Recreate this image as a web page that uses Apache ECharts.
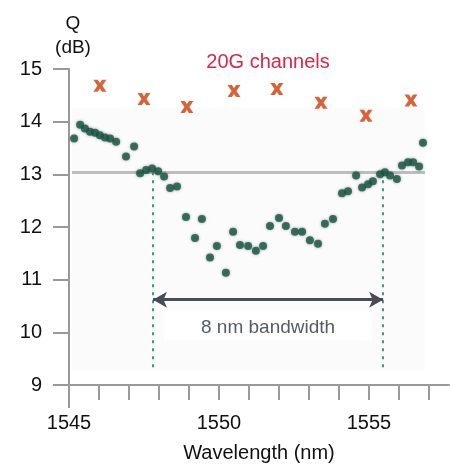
<!DOCTYPE html>
<html><head><meta charset="utf-8">
<script src="https://cdn.jsdelivr.net/npm/echarts@6/dist/echarts.min.js"></script>
<style>html,body{margin:0;padding:0;background:#fff}#c{width:450px;height:468px}</style>
</head><body><div id="c"></div>
<script>
// 10G channels: Q (dB) vs wavelength (nm)
const wl10 = [1545.17,1545.37,1545.53,1545.70,1545.87,1546.03,1546.20,1546.37,1546.57,1546.90,1547.17,1547.37,1547.57,1547.77,1547.97,1548.17,1548.37,1548.60,1548.90,1549.20,1549.43,1549.70,1549.93,1550.23,1550.47,1550.70,1550.97,1551.23,1551.47,1551.70,1552.00,1552.23,1552.53,1552.77,1553.03,1553.30,1553.53,1553.80,1554.10,1554.30,1554.57,1554.77,1554.97,1555.13,1555.37,1555.53,1555.70,1555.93,1556.10,1556.30,1556.47,1556.67,1556.80];
const q10 = [13.68,13.94,13.87,13.81,13.79,13.74,13.70,13.68,13.62,13.34,13.53,13.02,13.08,13.11,13.06,12.96,12.74,12.77,12.19,11.79,12.15,11.42,11.64,11.13,11.91,11.66,11.64,11.55,11.64,12.02,12.17,12.02,11.91,11.91,11.75,11.68,12.06,12.15,12.64,12.68,12.98,12.75,12.81,12.87,13.00,13.04,12.98,12.91,13.17,13.23,13.23,13.15,13.60];
// 20G channels
const wl20 = [1546.03,1547.50,1548.93,1550.50,1551.93,1553.40,1554.90,1556.40];
const q20 = [14.68,14.43,14.28,14.58,14.62,14.36,14.11,14.40];
// annotations
const refQ = 13.04;
const bandEdges = [1547.8, 1555.47];
const arrowQ = 10.62;
const xTicksLabeled = [1545, 1550, 1555];
const yTicks = [9, 10, 11, 12, 13, 14, 15];
const insetX = [1545.1, 1556.87];
const insetY = [9.28, 14.26];

const FONT = 'Liberation Sans, Arial, sans-serif';
const chart = echarts.init(document.getElementById('c'));
const xSquare = 'path://M0,0 L3.4,0 L5,2.6 L6.6,0 L10,0 L6.9,5 L10,10 L6.6,10 L5,7.4 L3.4,10 L0,10 L3.1,5 Z';

chart.setOption({
  animation: false,
  textStyle: {fontFamily: FONT},
  title: {text: 'Q\n(dB)', left: 68, top: 7, textAlign: 'center',
    textStyle: {fontFamily: FONT, fontSize: 19, fontWeight: 'normal', color: '#111', lineHeight: 24}},
  grid: {left: 69, right: 1, top: 69, bottom: 82},
  xAxis: {type: 'value', min: 1545, max: 1557.667, interval: 1,
    axisLine: {lineStyle: {color: '#999', width: 2}},
    axisTick: {length: 15, lineStyle: {color: '#999', width: 2}},
    splitLine: {show: false},
    axisLabel: {margin: 28, fontSize: 20, color: '#111', fontFamily: FONT,
      formatter: v => xTicksLabeled.indexOf(Math.round(v)) >= 0 && Math.abs(v - Math.round(v)) < 1e-6 ? String(Math.round(v)) : '',
      showMaxLabel: false},
    name: 'Wavelength (nm)', nameLocation: 'middle', nameGap: 58,
    nameTextStyle: {fontSize: 20, color: '#111', fontFamily: FONT}},
  yAxis: {type: 'value', min: yTicks[0], max: yTicks[yTicks.length - 1], interval: 1,
    axisLine: {show: true, lineStyle: {color: '#999', width: 2}},
    axisTick: {show: true, length: 16, lineStyle: {color: '#999', width: 2}},
    splitLine: {show: false},
    axisLabel: {margin: 27, fontSize: 20, color: '#111', fontFamily: FONT}},
  series: [
    {type: 'scatter', name: '10G', data: wl10.map((x, i) => [x, q10[i]]),
      symbolSize: 8, z: 5,
      itemStyle: {color: '#1b5242', shadowBlur: 3, shadowColor: 'rgba(27,82,66,0.55)'},
      markArea: {silent: true, itemStyle: {color: '#fcfbfc'},
        data: [[{coord: [insetX[0], insetY[1]]}, {coord: [insetX[1], insetY[0]]}]]},
      markLine: {silent: true, symbol: 'none', label: {show: false}, z: 2,
        data: [
          [{coord: [insetX[0], refQ], lineStyle: {color: '#bdbdbd', width: 3, type: 'solid'}}, {coord: [insetX[1], refQ]}],
          [{coord: [bandEdges[0], refQ], lineStyle: {color: '#3a9a86', width: 2, type: [3, 5]}}, {coord: [bandEdges[0], insetY[0]]}],
          [{coord: [bandEdges[1], refQ], lineStyle: {color: '#3a9a86', width: 2, type: [3, 5]}}, {coord: [bandEdges[1], insetY[0]]}]
        ]}
    },
    {type: 'scatter', name: '20G', data: wl20.map((x, i) => [x, q20[i]]),
      symbol: xSquare, symbolSize: [13, 12], itemStyle: {color: '#cf3c08'}, z: 6,
      markLine: {silent: true, symbol: ['arrow', 'arrow'], symbolSize: [12, 14], label: {show: false},
        lineStyle: {color: '#474c57', width: 3, type: 'solid'},
        data: [[{coord: [bandEdges[0], arrowQ]}, {coord: [bandEdges[1], arrowQ]}]]}
    }
  ]
});

// annotation texts placed from data coordinates
const midX = (bandEdges[0] + bandEdges[1]) / 2;
const pMid = chart.convertToPixel({gridIndex: 0}, [midX, arrowQ]);
const pTop = chart.convertToPixel({gridIndex: 0}, [midX, 15]);
const pRef = chart.convertToPixel({gridIndex: 0}, [midX, refQ]);
const pAx = chart.convertToPixel({gridIndex: 0}, [1545, 9]);
chart.setOption({
  graphic: [
    {type: 'text', x: pTop[0], y: pTop[1] - 7, style: {text: '20G channels', fill: '#d9274a', font: '20px ' + FONT, textAlign: 'center', textVerticalAlign: 'middle'}},
    {type: 'text', x: pTop[0], y: pRef[1] - 21, style: {text: '10G channels', fill: '#1b1b9a', font: '20px ' + FONT, textAlign: 'center', textVerticalAlign: 'middle'}},
    {type: 'rect', shape: {x: pMid[0] - 104, y: pMid[1] + 11, width: 208, height: 30}, style: {fill: '#ffffff'}, z: 10},
    {type: 'text', x: pMid[0], y: pMid[1] + 28, z: 11, style: {text: '8 nm bandwidth', fill: '#555b66', font: '19px ' + FONT, textAlign: 'center', textVerticalAlign: 'middle'}},
    {type: 'line', shape: {x1: pAx[0], y1: pAx[1], x2: pAx[0], y2: pAx[1] + 23}, style: {stroke: '#999', lineWidth: 2}}
  ]
});
</script></body></html>
